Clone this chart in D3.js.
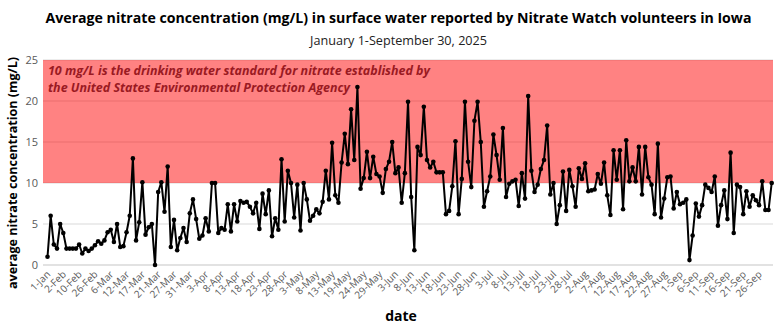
<!DOCTYPE html>
<html><head><meta charset="utf-8">
<script src="https://cdn.jsdelivr.net/npm/d3@7"></script>
<style>body{margin:0;background:#fff} svg{display:block} text{font-family:"Open Sans",sans-serif}</style>
</head><body><svg id="c" width="780" height="327"></svg>
<script>
const values = [
1.0,6.0,2.5,2.0,5.0,3.9,2.0,2.0,2.0,2.0,2.5,1.4,2.0,1.7,2.0,2.4,2.9,2.6,3.0,4.0,4.3,2.8,5.0,2.2,2.3,4.0,6.0,13.0,3.0,5.2,10.1,3.7,4.6,5.0,0,8.9,10.1,6.5,12.0,2.2,5.5,1.8,3.3,4.5,2.8,6.3,8.0,
5.6,3.2,3.6,5.7,4.1,10.0,10.0,3.9,4.5,4.3,7.4,4.1,7.4,5.3,7.8,7.6,7.7,7.1,6.3,7.6,4.4,8.7,6.2,9.1,3.5,5.7,4.3,12.9,5.3,11.5,10.0,5.8,9.8,4.2,10.0,8.0,5.4,6.0,6.8,6.3,7.7,11.5,8.0,14.9,8.5,
7.6,12.5,16.0,12.3,19.0,12.8,21.7,9.3,10.6,13.8,10.6,13.2,11.1,10.8,8.8,11.7,12.6,15.0,11.2,11.9,7.6,11.2,19.9,8.3,1.8,14.4,13.4,19.3,12.8,11.9,12.6,11.3,11.3,11.3,6.2,6.6,9.6,15.1,6.2,10.5,19.9,12.6,9.5,17.6,19.9,15.0,
7.1,9.0,10.8,15.9,13.4,10.4,16.7,8.3,9.9,10.2,10.4,7.2,11.2,8.1,20.6,11.5,8.9,9.8,11.7,12.8,17.0,8.6,10.0,5.0,7.3,11.4,6.6,11.6,9.6,7.1,11.8,10.5,12.4,9.0,9.1,9.2,11.1,9.9,12.5,8.5,6.1,14.0,10.4,14.0,6.8,
15.2,10.2,11.9,10.2,14.4,8.6,14.4,10.7,9.8,6.2,14.8,5.8,8.1,10.7,10.8,6.9,8.9,7.4,7.6,8.0,0.6,3.6,7.5,5.9,7.3,9.8,9.4,8.9,10.8,4.8,7.3,9.1,5.6,13.7,3.9,9.8,9.5,6.2,9.0,7.1,8.5,7.9,7.3,10.2,6.7,6.7,10.0
];
const tickLabels = ["1-Jan","2-Feb","10-Feb","26-Feb","6-Mar","12-Mar","17-Mar","21-Mar","27-Mar","31-Mar","3-Apr","8-Apr","13-Apr","18-Apr","23-Apr","28-Apr","3-May","8-May","13-May","19-May","24-May","29-May","3-Jun","8-Jun","13-Jun","18-Jun","23-Jun","28-Jun","3-Jul","8-Jul","13-Jul","18-Jul","23-Jul","28-Jul","2-Aug","7-Aug","12-Aug","17-Aug","22-Aug","27-Aug","1-Sep","6-Sep","11-Sep","16-Sep","21-Sep","26-Sep"];
const labelEvery = 5;
const yTicks = [0,5,10,15,20,25];
const standardBand = [10,25];
const titleText = "Average nitrate concentration (mg/L) in surface water reported by Nitrate Watch volunteers in Iowa";
const subtitleText = "January 1-September 30, 2025";
const noteLines = ["10 mg/L is the drinking water standard for nitrate established by","the United States Environmental Protection Agency"];

const svg = d3.select("#c");
const plotL = 43, plotR = 773;
const idx = d3.range(values.length);
const x = d3.scalePoint().domain(idx).range([47.5, 771.7]);
const y = d3.scaleLinear().domain([0,25]).range([265,60]);

// gridlines
svg.append("g").selectAll("line").data(yTicks).join("line")
  .attr("x1",plotL).attr("x2",plotR).attr("y1",d=>y(d)).attr("y2",d=>y(d))
  .attr("stroke",d=>d===0?"#c6c6c6":"#d9d9d9").attr("stroke-width",1.2);

// standard band
svg.append("rect").attr("x",plotL).attr("width",plotR-plotL)
  .attr("y",y(standardBand[1])).attr("height",y(standardBand[0])-y(standardBand[1]))
  .attr("fill","rgb(255,0,0)").attr("fill-opacity",0.49);

// note text
svg.append("g").selectAll("text").data(noteLines).join("text")
  .attr("x",48).attr("y",(d,i)=>75+i*17)
  .attr("font-size",12.5).attr("font-weight","bold").attr("font-style","italic")
  .attr("fill","#9a1a22")
  .attr("textLength",(d,i)=>i===0?382:302).attr("lengthAdjust","spacingAndGlyphs")
  .text(d=>d);

// y axis
const ya = svg.append("g").attr("transform",`translate(${plotL},0)`)
  .call(d3.axisLeft(y).tickValues(yTicks).tickSize(0).tickPadding(5));
ya.select(".domain").remove();
ya.selectAll("text").attr("font-size",11).attr("fill","#595959").attr("font-family","Open Sans");

// x axis
const xa = svg.append("g").attr("transform","translate(0,265)")
  .call(d3.axisBottom(x).tickValues(idx.filter(i=>i%labelEvery===0)).tickFormat(i=>tickLabels[i/labelEvery]).tickSize(0));
xa.select(".domain").remove();
xa.selectAll("text").attr("font-size",10).attr("fill","#595959").attr("font-family","Open Sans")
  .attr("text-anchor","end").attr("dy",0).attr("y",0)
  .attr("transform","translate(3,10) rotate(-45)");

// line + markers
svg.append("path").datum(values)
  .attr("d",d3.line().x((d,i)=>x(i)).y(d=>y(d)))
  .attr("fill","none").attr("stroke","#000").attr("stroke-width",2).attr("stroke-linejoin","round");
svg.append("g").selectAll("circle").data(values).join("circle")
  .attr("cx",(d,i)=>x(i)).attr("cy",d=>y(d)).attr("r",2.3).attr("fill","#000");

// titles
svg.append("text").attr("x",398.5).attr("y",23).attr("text-anchor","middle")
  .attr("font-size",14).attr("font-weight","bold").attr("fill","#000")
  .attr("textLength",706).attr("lengthAdjust","spacingAndGlyphs").text(titleText);
svg.append("text").attr("x",398.5).attr("y",45).attr("text-anchor","middle")
  .attr("font-size",13).attr("fill","#222")
  .attr("textLength",177).attr("lengthAdjust","spacingAndGlyphs").text(subtitleText);
svg.append("text").attr("transform","translate(17,173) rotate(-90)").attr("text-anchor","middle")
  .attr("font-size",13).attr("font-weight","bold").attr("fill","#000")
  .attr("textLength",232).attr("lengthAdjust","spacingAndGlyphs").text("average nitrate concentration (mg/L)");
svg.append("text").attr("x",401).attr("y",321).attr("text-anchor","middle")
  .attr("font-size",14).attr("font-weight","bold").attr("fill","#000").text("date");
</script></body></html>
